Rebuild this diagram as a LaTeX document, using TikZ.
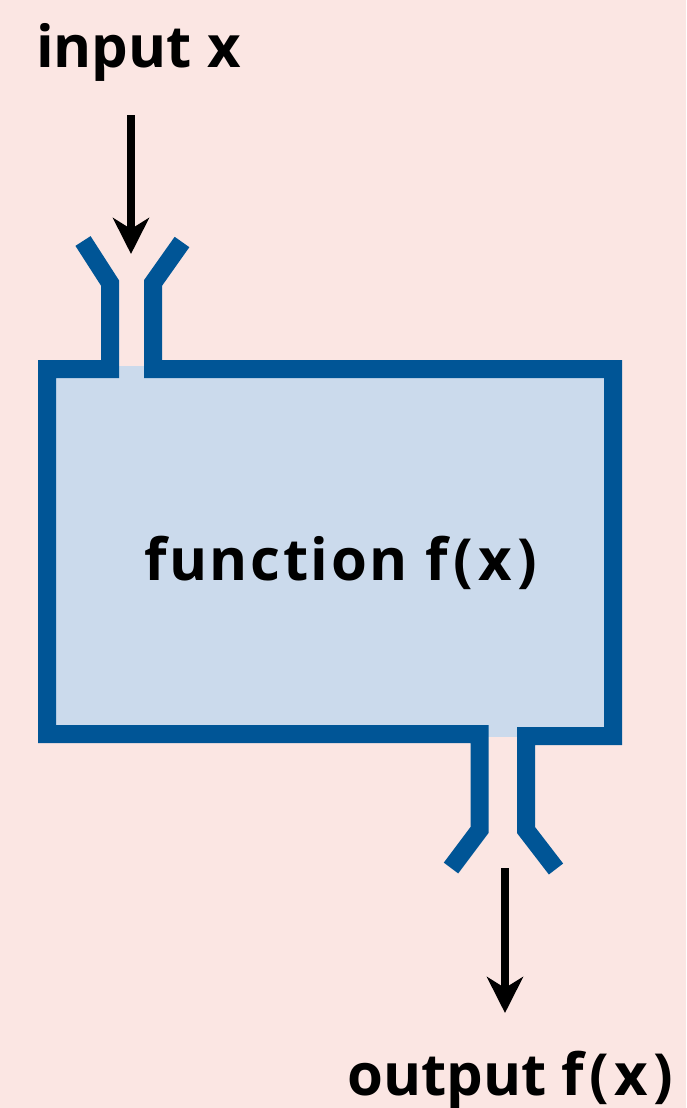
\documentclass[tikz,border=0pt]{standalone}
\usepackage{fontspec}
\setmainfont{Open Sans}
\newfontfamily\spaced[LetterSpace=4.5]{Open Sans}
\usetikzlibrary{arrows.meta}
\definecolor{bg}{HTML}{FBE6E3}
\definecolor{pipe}{HTML}{005596}
\definecolor{boxfill}{HTML}{CBDAEC}
\newcommand{\fofx}{f\kern6pt(\kern5pt x\kern5pt)}
\tikzset{
  wall/.style={draw=pipe, line width=18pt, line join=miter, line cap=butt},
  flow/.style={draw=black, line width=8pt, -{Stealth[length=36pt, width=36pt, inset=11pt]}},
  lbl/.style={font=\bfseries\fontsize{58}{70}\selectfont, inner sep=0pt, anchor=base west}
}
\begin{document}
\begin{tikzpicture}[x=1pt, y=-1pt]
\fill[bg] (0,0) rectangle (686,1108);
\useasboundingbox (0,0) rectangle (686,1108);
% box fill
\fill[boxfill] (47,366) rectangle (613,737);
% outline with funnels
\draw[wall] (83,241) -- (110,283) -- (110,369) -- (47,369) -- (47,734) -- (479.5,734) -- (479.5,830) -- (451,868);
\draw[wall] (182,242) -- (153,283) -- (153,369) -- (613,369) -- (613,736) -- (526,736) -- (526,830) -- (556,869);
% labels
\node[lbl] (in) at (36,67) {input x};
\node[lbl] (fn) at (144,580) {\spaced function \fofx};
\node[lbl] (out) at (347,1095) {output \fofx};
\coordinate (inA) at (131,115);
\coordinate (inB) at (131,254);
\coordinate (outA) at (505,868);
\coordinate (outB) at (505,1013);
\draw[flow] (inA) -- (inB);
\draw[flow] (outA) -- (outB);
\end{tikzpicture}
\end{document}
